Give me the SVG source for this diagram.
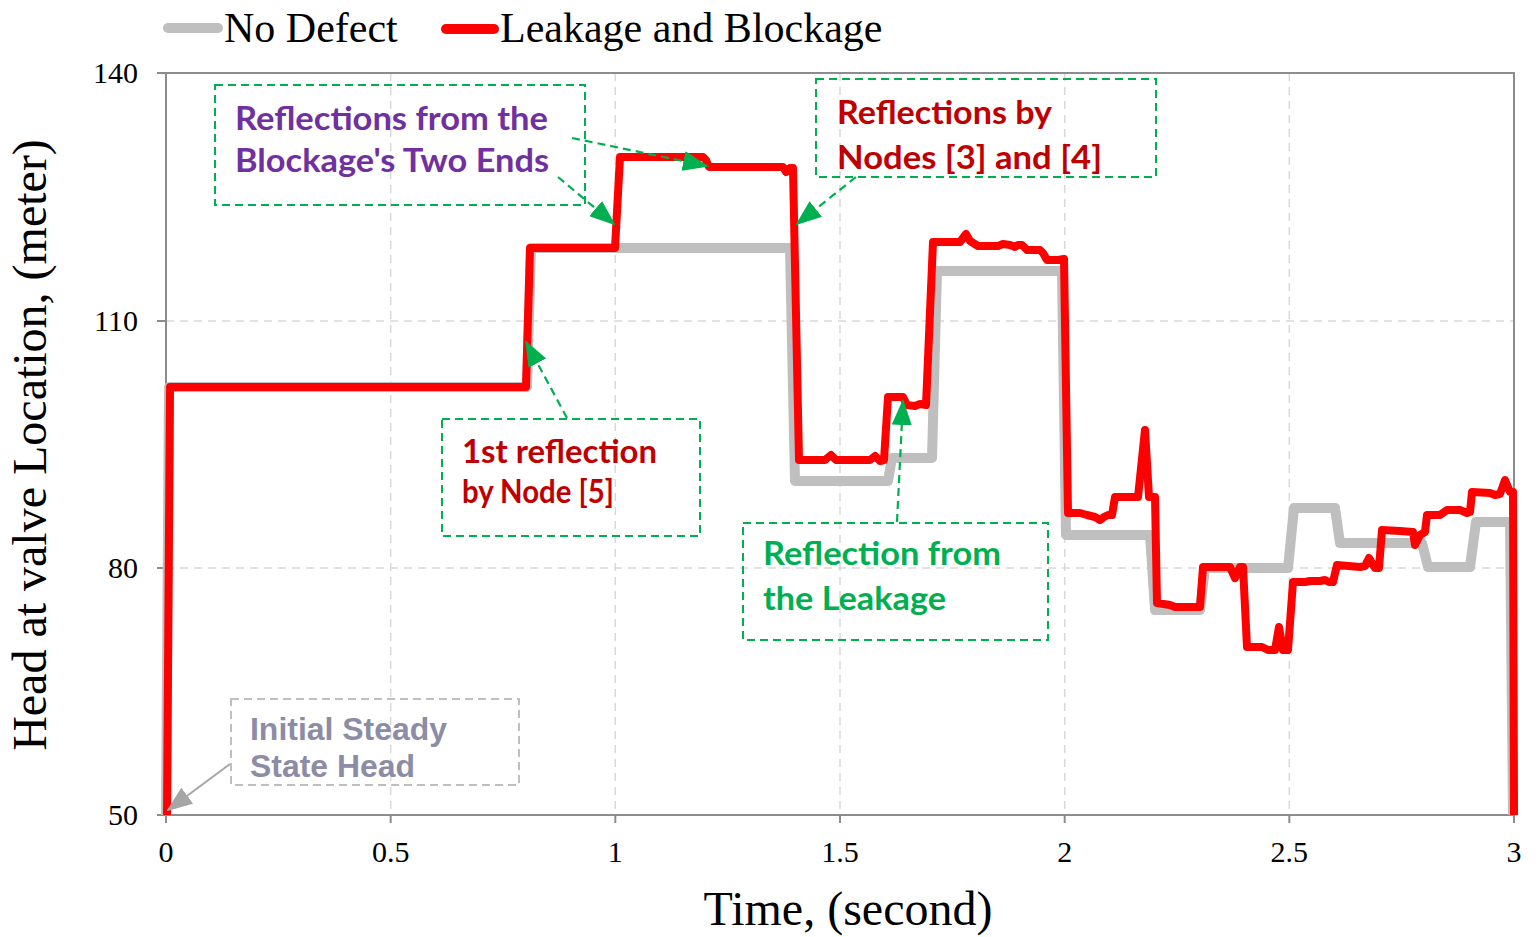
<svg xmlns="http://www.w3.org/2000/svg" width="1538" height="937" viewBox="0 0 1538 937">
<style>
.grid{stroke:#d9d9d9;stroke-width:1.5;stroke-dasharray:8,6;fill:none}
.frame{stroke:#8c8c8c;stroke-width:2;fill:none}
.tick{stroke:#8c8c8c;stroke-width:2}
.tl{font-family:"Liberation Serif",serif;font-size:30px;fill:#000}
.ax{font-family:"Liberation Serif",serif;font-size:48px;fill:#000}
.leg{font-family:"Liberation Serif",serif;font-size:42px;fill:#000}
.ann{font-family:Lato,"Open Sans",sans-serif;font-weight:bold;font-size:33px}
.box{fill:none;stroke:#00b050;stroke-width:2;stroke-dasharray:8,5}
.gbox{fill:none;stroke:#bfbfbf;stroke-width:2;stroke-dasharray:8,5}
.arr{fill:none;stroke:#00b050;stroke-width:2.2;stroke-dasharray:8,5;marker-end:url(#ga)}
</style>
<defs>
<marker id="ga" markerUnits="userSpaceOnUse" markerWidth="26" markerHeight="20" viewBox="0 0 26 20" refX="24" refY="10" orient="auto">
<path d="M0,0 L26,10 L0,20 Z" fill="#00b050"/>
</marker>
<marker id="gra" markerUnits="userSpaceOnUse" markerWidth="26" markerHeight="20" viewBox="0 0 26 20" refX="24" refY="10" orient="auto">
<path d="M0,0 L26,10 L0,20 Z" fill="#a6a6a6"/>
</marker>
</defs>
<rect width="1538" height="937" fill="#fff"/>
<g id="grid">
<line class="grid" x1="390.7" y1="73" x2="390.7" y2="815"/>
<line class="grid" x1="615.3" y1="73" x2="615.3" y2="815"/>
<line class="grid" x1="840" y1="73" x2="840" y2="815"/>
<line class="grid" x1="1064.7" y1="73" x2="1064.7" y2="815"/>
<line class="grid" x1="1289.3" y1="73" x2="1289.3" y2="815"/>
<line class="grid" x1="166" y1="321" x2="1514" y2="321"/>
<line class="grid" x1="166" y1="568" x2="1514" y2="568"/>
</g>
<g id="axes">
<rect class="frame" x="166" y="73" width="1348" height="742"/>
<line class="tick" x1="157" y1="73" x2="166" y2="73"/>
<line class="tick" x1="157" y1="321" x2="166" y2="321"/>
<line class="tick" x1="157" y1="568" x2="166" y2="568"/>
<line class="tick" x1="157" y1="815" x2="166" y2="815"/>
<line class="tick" x1="166" y1="815" x2="166" y2="823"/>
<line class="tick" x1="390.7" y1="815" x2="390.7" y2="823"/>
<line class="tick" x1="615.3" y1="815" x2="615.3" y2="823"/>
<line class="tick" x1="840" y1="815" x2="840" y2="823"/>
<line class="tick" x1="1064.7" y1="815" x2="1064.7" y2="823"/>
<line class="tick" x1="1289.3" y1="815" x2="1289.3" y2="823"/>
<line class="tick" x1="1514" y1="815" x2="1514" y2="823"/>
<g class="tl" text-anchor="end">
<text x="138" y="83">140</text>
<text x="138" y="331">110</text>
<text x="138" y="578">80</text>
<text x="138" y="825">50</text>
</g>
<g class="tl" text-anchor="middle">
<text x="166" y="862">0</text>
<text x="390.7" y="862">0.5</text>
<text x="615.3" y="862">1</text>
<text x="840" y="862">1.5</text>
<text x="1064.7" y="862">2</text>
<text x="1289.3" y="862">2.5</text>
<text x="1514" y="862">3</text>
</g>
<text class="ax" x="848" y="925" text-anchor="middle">Time, (second)</text>
<text class="ax" transform="translate(46,445) rotate(-90)" text-anchor="middle">Head at valve Location, (meter)</text>
</g>
<g id="series-no-defect">
<path d="M166,815 L169,387 L527,387 L531,248 L790,248 L795,481 L888,481 L892,458 L932,458 L937,271 L1062,271 L1066,535 L1150,535 L1155,610 L1200,610 L1205,568 L1288,568 L1294,508 L1335,508 L1340,543 L1422,543 L1428,567 L1470,567 L1476,522 L1510,522 L1513,815" fill="none" stroke="#bfbfbf" stroke-width="10" stroke-linejoin="round"/>
</g>
<g id="series-leak-block">
<path d="M167,815 L170,387 L526,387 L530,248 L615,248 L620,157 L703,157 L706,160 L709,167 L783,167 L786,172 L790,168 L793,168 L799,460 L825,460 L831,455 L836,460 L870,460 L875,456 L880,461 L884,460 L888,397 L903,397 L907,405 L915,406 L920,404 L926,405 L933,242 L960,242 L966,234 L970,241 L978,246 L998,246 L1003,244 L1010,245 L1015,247 L1018,245 L1022,245 L1027,250 L1040,250 L1043,253 L1047,260 L1058,260 L1064,259 L1068,513 L1080,513 L1087,515 L1095,517 L1100,520 L1104,517 L1108,515 L1112,515 L1115,497 L1138,497 L1145,430 L1149,497 L1155,497 L1157,603 L1170,605 L1175,607 L1200,607 L1203,567 L1230,567 L1235,578 L1240,567 L1243,567 L1247,647 L1262,647 L1268,650 L1275,650 L1279,627 L1283,650 L1288,650 L1293,582 L1305,582 L1310,581 L1320,581 L1325,580 L1329,582 L1333,582 L1337,565 L1360,567 L1365,566 L1369,558 L1375,568 L1379,568 L1382,530 L1400,531 L1413,532 L1415,545 L1420,535 L1425,532 L1427,515 L1440,515 L1447,510 L1460,510 L1467,513 L1470,512 L1472,492 L1490,493 L1495,495 L1500,494 L1505,480 L1510,492 L1513,492 L1514,815" fill="none" stroke="#ff0000" stroke-width="8" stroke-linejoin="round"/>
</g>
<g id="legend">
<line x1="168" y1="28" x2="218" y2="28" stroke="#bfbfbf" stroke-width="10" stroke-linecap="round"/>
<text class="leg" x="224" y="42">No Defect</text>
<line x1="446" y1="29" x2="494" y2="29" stroke="#ff0000" stroke-width="10" stroke-linecap="round"/>
<text class="leg" x="500" y="42">Leakage and Blockage</text>
</g>
<g id="connectors">
<line class="arr" x1="572" y1="138" x2="707" y2="166"/>
<line class="arr" x1="558" y1="177" x2="614" y2="224"/>
<line class="arr" x1="856" y1="177" x2="797" y2="224"/>
<line class="arr" x1="567" y1="418" x2="526" y2="342"/>
<line class="arr" x1="897" y1="522" x2="903" y2="401"/>
<line x1="230" y1="764" x2="168" y2="810" stroke="#a6a6a6" stroke-width="2" marker-end="url(#gra)"/>
</g>
<g id="note-blockage">
<rect class="box" x="215" y="85" width="370" height="120"/>
<text class="ann" fill="#7030a0"><tspan x="235" y="130" textLength="313" lengthAdjust="spacingAndGlyphs">Reflections from the</tspan><tspan x="235" y="172" textLength="314" lengthAdjust="spacingAndGlyphs">Blockage's Two Ends</tspan></text>
</g>
<g id="note-nodes34">
<rect class="box" x="816" y="79" width="340" height="98"/>
<text class="ann" fill="#c00000"><tspan x="837" y="124" textLength="215" lengthAdjust="spacingAndGlyphs">Reflections by</tspan><tspan x="837" y="169" textLength="265" lengthAdjust="spacingAndGlyphs">Nodes [3] and [4]</tspan></text>
</g>
<g id="note-node5">
<rect class="box" x="442" y="419" width="258" height="117"/>
<text class="ann" fill="#c00000" font-size="30"><tspan x="462" y="463" textLength="195" lengthAdjust="spacingAndGlyphs">1st reflection</tspan><tspan x="462" y="503" textLength="152" lengthAdjust="spacingAndGlyphs">by Node [5]</tspan></text>
</g>
<g id="note-leakage">
<rect class="box" x="743" y="523" width="305" height="117"/>
<text class="ann" fill="#00b050"><tspan x="763" y="565" textLength="238" lengthAdjust="spacingAndGlyphs">Reflection from</tspan><tspan x="763" y="610" textLength="183" lengthAdjust="spacingAndGlyphs">the Leakage</tspan></text>
</g>
<g id="note-initial">
<rect class="gbox" x="231" y="699" width="288" height="86"/>
<text font-family="Liberation Sans,Arial,sans-serif" font-weight="bold" font-size="31" fill="#8c8ca6"><tspan x="250" y="740" textLength="197" lengthAdjust="spacingAndGlyphs">Initial Steady</tspan><tspan x="250" y="777" textLength="165" lengthAdjust="spacingAndGlyphs">State Head</tspan></text>
</g>
</svg>
